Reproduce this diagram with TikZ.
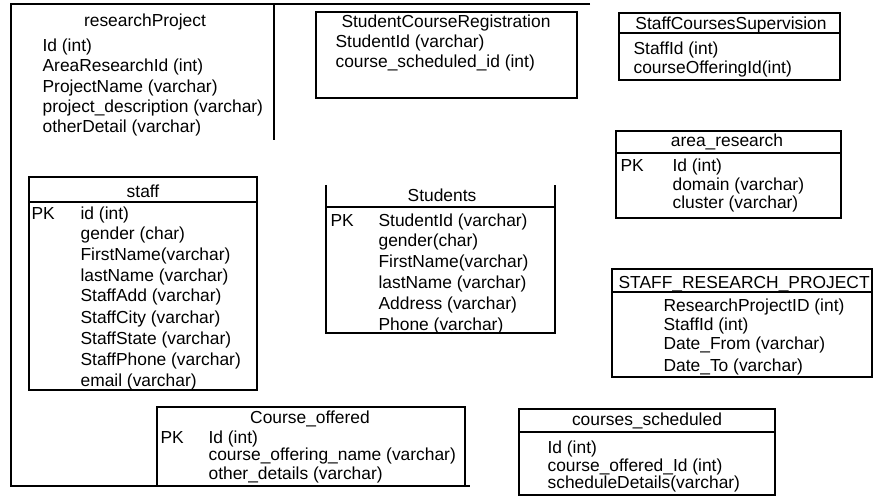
\documentclass[tikz,border=0pt]{standalone}
\usepackage{fontspec}
\setmainfont{Liberation Sans}
\usepackage{tikz}

\begin{document}
\begin{tikzpicture}[x=1pt, y=-1pt, line width=1.2pt,
    field/.style={anchor=base west, inner sep=0pt, font=\fontsize{17.4}{20}\selectfont},
    head/.style={field, anchor=base}]
  \useasboundingbox (0,0) rectangle (875,497);

  % page frame and researchProject
  \draw (590,4) -- (11,4) -- (11,486) -- (470,486);
  \draw (274,4) -- (274,140);
  \node[head] (rp) at (145,27) {researchProject};
  \node[field] (rp1) at (42,52) {Id (int)};
  \node[field] (rp2) at (42,72) {AreaResearchId (int)};
  \node[field] (rp3) at (42,93) {ProjectName (varchar)};
  \node[field] (rp4) at (42,113) {project\_description (varchar)};
  \node[field] (rp5) at (42,133) {otherDetail (varchar)};

  % StudentCourseRegistration
  \draw (316,12) rectangle (577,98);
  \node[head] (scr) at (446,28) {StudentCourseRegistration};
  \node[field] (scr1) at (335,48) {StudentId (varchar)};
  \node[field] (scr2) at (335,68) {course\_scheduled\_id (int)};

  % StaffCoursesSupervision
  \draw (619,13) rectangle (840,80);
  \draw (619,33) -- (840,33);
  \node[head] (scs) at (731,30) {StaffCoursesSupervision};
  \node[field] (scs1) at (633,55) {StaffId (int)};
  \node[field] (scs2) at (633,74) {courseOfferingId(int)};

  % area_research
  \draw (616,131) rectangle (841,218);
  \draw (616,153) -- (841,153);
  \node[head] (ar) at (727,147) {area\_research};
  \node[field] (arpk) at (620,172) {PK};
  \node[field] (ar1) at (672,172) {Id (int)};
  \node[field] (ar2) at (672,190) {domain (varchar)};
  \node[field] (ar3) at (672,208) {cluster (varchar)};

  % staff
  \draw (29,177) rectangle (257,390);
  \draw (29,202) -- (257,202);
  \node[head] (st) at (143,197) {staff};
  \node[field] (stpk) at (31,219) {PK};
  \node[field] (st1) at (80,219) {id (int)};
  \node[field] (st2) at (80,240) {gender (char)};
  \node[field] (st3) at (80,260) {FirstName(varchar)};
  \node[field] (st4) at (80,281) {lastName (varchar)};
  \node[field] (st5) at (80,301) {StaffAdd (varchar)};
  \node[field] (st6) at (80,323) {StaffCity (varchar)};
  \node[field] (st7) at (80,344) {StaffState (varchar)};
  \node[field] (st8) at (80,365) {StaffPhone (varchar)};
  \node[field] (st9) at (80,386) {email (varchar)};

  % Students
  \draw (326,185) -- (326,333) -- (555,333) -- (555,185);
  \draw (326,207) -- (555,207);
  \node[head] (sd) at (442,201) {Students};
  \node[field] (sdpk) at (330,226) {PK};
  \node[field] (sd1) at (378,226) {StudentId (varchar)};
  \node[field] (sd2) at (378,246) {gender(char)};
  \node[field] (sd3) at (378,267) {FirstName(varchar)};
  \node[field] (sd4) at (378,288) {lastName (varchar)};
  \node[field] (sd5) at (378,309) {Address (varchar)};
  \node[field] (sd6) at (378,330) {Phone (varchar)};

  % STAFF_RESEARCH_PROJECT
  \draw (612,269) rectangle (872,377);
  \draw (612,292) -- (872,292);
  \node[field] (srp) at (618,288) {STAFF\_RESEARCH\_PROJECT};
  \node[field] (srp1) at (663,311) {ResearchProjectID (int)};
  \node[field] (srp2) at (663,330) {StaffId (int)};
  \node[field] (srp3) at (663,349) {Date\_From (varchar)};
  \node[field] (srp4) at (663,371) {Date\_To (varchar)};

  % Course_offered
  \draw (157,407) rectangle (465,486);
  \node[head] (co) at (310,423) {Course\_offered};
  \node[field] (copk) at (160,443) {PK};
  \node[field] (co1) at (208,443) {Id (int)};
  \node[field] (co2) at (208,460) {course\_offering\_name (varchar)};
  \node[field] (co3) at (208,479) {other\_details (varchar)};

  % courses_scheduled
  \draw (519,409) rectangle (775,495);
  \draw (519,432) -- (775,432);
  \node[head] (cs) at (647,425) {courses\_scheduled};
  \node[field] (cs1) at (547,453) {Id (int)};
  \node[field] (cs2) at (547,471) {course\_offered\_Id (int)};
  \node[field] (cs3) at (547,488) {scheduleDetails(varchar)};
\end{tikzpicture}
\end{document}
